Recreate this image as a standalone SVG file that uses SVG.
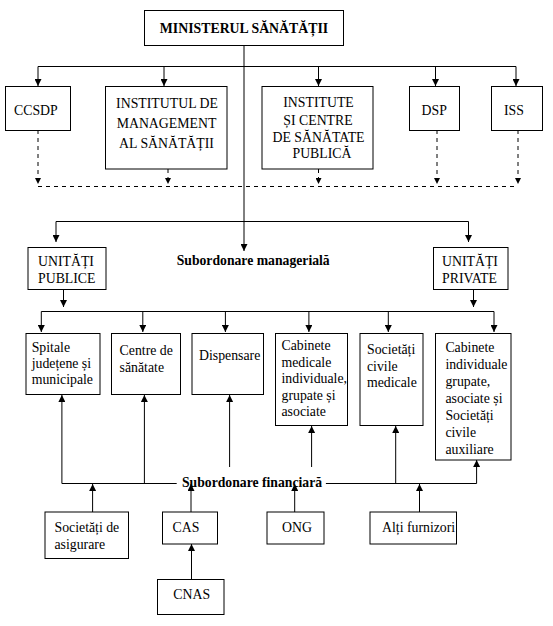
<svg xmlns="http://www.w3.org/2000/svg" width="553" height="626" viewBox="0 0 553 626">
<style>
.b{fill:#fff;stroke:#000;stroke-width:1}
.t{font-family:'Liberation Serif','Times New Roman',serif;font-size:13.8px;fill:#000}
.m{text-anchor:middle}
.bold{font-weight:bold;font-size:13.7px}
.c{fill:none;stroke:#000;stroke-width:1}
.d{fill:none;stroke:#000;stroke-width:1;stroke-dasharray:4 4}
.a{marker-end:url(#ah)}
.ad{marker-end:url(#ahs)}
</style>
<defs>
<marker id="ah" markerUnits="userSpaceOnUse" markerWidth="7" markerHeight="7" refX="7" refY="3.5" orient="auto"><path d="M0,0 L7,3.5 L0,7 z" fill="#000"/></marker>
<marker id="ahs" markerUnits="userSpaceOnUse" markerWidth="6" markerHeight="6" refX="6" refY="3" orient="auto"><path d="M0,0 L6,3 L0,6 z" fill="#000"/></marker>
</defs>
<rect width="553" height="626" fill="#fff"/>
<g id="connectors">
<path class="c a" d="M244,45 V251"/>
<path class="c" d="M38,66.5 H516"/>
<path class="c a" d="M38,66.5 V86"/>
<path class="c a" d="M164,66.5 V86"/>
<path class="c a" d="M318.5,66.5 V86"/>
<path class="c a" d="M435.5,66.5 V86"/>
<path class="c a" d="M516,66.5 V86"/>
<path class="d ad" d="M38,130 V184"/>
<path class="d ad" d="M168,169 V184"/>
<path class="d ad" d="M318.5,169 V184"/>
<path class="d ad" d="M437,130 V184"/>
<path class="d ad" d="M518,130 V184"/>
<path class="d" d="M38,186.5 H518"/>
<path class="c" d="M56,221.5 H468.5"/>
<path class="c a" d="M56,221.5 V242"/>
<path class="c a" d="M468.5,221.5 V242"/>
<path class="c a" d="M63.5,289.5 V307"/>
<path class="c a" d="M473.5,289.5 V307"/>
<path class="c" d="M41.3,311.5 H494"/>
<path class="c a" d="M41.3,311.5 V332"/>
<path class="c a" d="M142.8,311.5 V332"/>
<path class="c a" d="M225.4,311.5 V332"/>
<path class="c a" d="M308.9,311.5 V332"/>
<path class="c a" d="M388.3,311.5 V332"/>
<path class="c a" d="M494,311.5 V332"/>
<path class="c" d="M61.9,483.5 H176.7"/>
<path class="c a" d="M61.9,483.5 V395"/>
<path class="c a" d="M144.4,483.5 V395"/>
<path class="c a" d="M229.6,467 V395"/>
<path class="c a" d="M311.6,467 V426"/>
<path class="c" d="M325.9,483.5 H476.6"/>
<path class="c a" d="M476.6,483.5 V460"/>
<path class="c a" d="M395.7,483.5 V426"/>
<path class="c a" d="M92.6,512 V484"/>
<path class="c a" d="M191,512 V484"/>
<path class="c a" d="M294.7,512 V484"/>
<path class="c a" d="M419.5,512 V484"/>
<path class="c a" d="M191.5,579 V544"/>
</g>
<g id="lbl-manageriala"><text class="t bold" x="176.7" y="265">Subordonare managerială</text></g>
<g id="lbl-financiara"><text class="t bold" x="182" y="487">Subordonare financiară</text></g>
<g id="ministerul"><rect class="b" x="144.5" y="10.5" width="199" height="35"/><text class="t m" x="244" y="33" font-weight="bold" font-size="14.2">MINISTERUL SĂNĂTĂȚII</text></g>
<g id="ccsdp"><rect class="b" x="5.5" y="86.5" width="65" height="44"/><text class="t" x="14" y="115">CCSDP</text></g>
<g id="ims"><rect class="b" x="105.5" y="86.5" width="121.5" height="82.5"/><text class="t m"><tspan x="167" y="108">INSTITUTUL DE</tspan><tspan x="166.5" y="128">MANAGEMENT</tspan><tspan x="166.5" y="148">AL SĂNĂTĂȚII</tspan></text></g>
<g id="icsp"><rect class="b" x="262" y="86.5" width="111" height="82.5"/><text class="t m"><tspan x="318.5" y="107">INSTITUTE</tspan><tspan x="318" y="125">ȘI CENTRE</tspan><tspan x="318.5" y="142">DE SĂNĂTATE</tspan><tspan x="322" y="158">PUBLICĂ</tspan></text></g>
<g id="dsp"><rect class="b" x="409.5" y="86.5" width="50" height="44"/><text class="t" x="421.5" y="115">DSP</text></g>
<g id="iss"><rect class="b" x="491.5" y="86.5" width="51" height="44"/><text class="t" x="504" y="115">ISS</text></g>
<g id="up"><rect class="b" x="28" y="247.5" width="78" height="42"/><text class="t"><tspan x="38" y="266">UNITĂȚI</tspan><tspan x="38" y="283">PUBLICE</tspan></text></g>
<g id="upriv"><rect class="b" x="433.5" y="247.5" width="74.5" height="42"/><text class="t"><tspan x="442" y="266">UNITĂȚI</tspan><tspan x="442" y="283">PRIVATE</tspan></text></g>
<g id="spitale"><rect class="b" x="26" y="333.5" width="74" height="61"/><text class="t"><tspan x="31.7" y="352">Spitale</tspan><tspan x="31.7" y="368">județene și</tspan><tspan x="31.7" y="384">municipale</tspan></text></g>
<g id="centre"><rect class="b" x="111.5" y="333.5" width="69" height="61"/><text class="t"><tspan x="119.6" y="355">Centre de</tspan><tspan x="119.6" y="372">sănătate</tspan></text></g>
<g id="dispensare"><rect class="b" x="192" y="333.5" width="71.5" height="61"/><text class="t" x="199" y="360">Dispensare</text></g>
<g id="cabmed"><rect class="b" x="275.5" y="333.5" width="72" height="92"/><text class="t"><tspan x="281.5" y="350">Cabinete</tspan><tspan x="281.5" y="366.5">medicale</tspan><tspan x="281.5" y="383">individuale,</tspan><tspan x="281.5" y="399.5">grupate și</tspan><tspan x="281.5" y="416">asociate</tspan></text></g>
<g id="socciv"><rect class="b" x="360" y="333.5" width="63" height="92"/><text class="t"><tspan x="367" y="354">Societăți</tspan><tspan x="367" y="370.5">civile</tspan><tspan x="367" y="387">medicale</tspan></text></g>
<g id="cabind"><rect class="b" x="435.5" y="333.5" width="75.5" height="126.5"/><text class="t"><tspan x="445.4" y="352">Cabinete</tspan><tspan x="445.4" y="369">individuale</tspan><tspan x="445.4" y="386">grupate,</tspan><tspan x="445.4" y="403">asociate și</tspan><tspan x="445.4" y="420">Societăți</tspan><tspan x="445.4" y="437">civile</tspan><tspan x="445.4" y="454">auxiliare</tspan></text></g>
<g id="socasig"><rect class="b" x="45" y="512" width="83.5" height="46.5"/><text class="t"><tspan x="54.5" y="532">Societăți de</tspan><tspan x="54.5" y="549">asigurare</tspan></text></g>
<g id="cas"><rect class="b" x="162.5" y="512" width="55" height="32"/><text class="t" x="172.5" y="532">CAS</text></g>
<g id="ong"><rect class="b" x="267" y="512" width="57" height="32"/><text class="t" x="282" y="532">ONG</text></g>
<g id="alti"><rect class="b" x="370" y="512" width="86.5" height="32"/><text class="t" x="382" y="532">Alți furnizori</text></g>
<g id="cnas"><rect class="b" x="157.5" y="579.5" width="66.5" height="35"/><text class="t" x="173.3" y="599">CNAS</text></g>
</svg>
